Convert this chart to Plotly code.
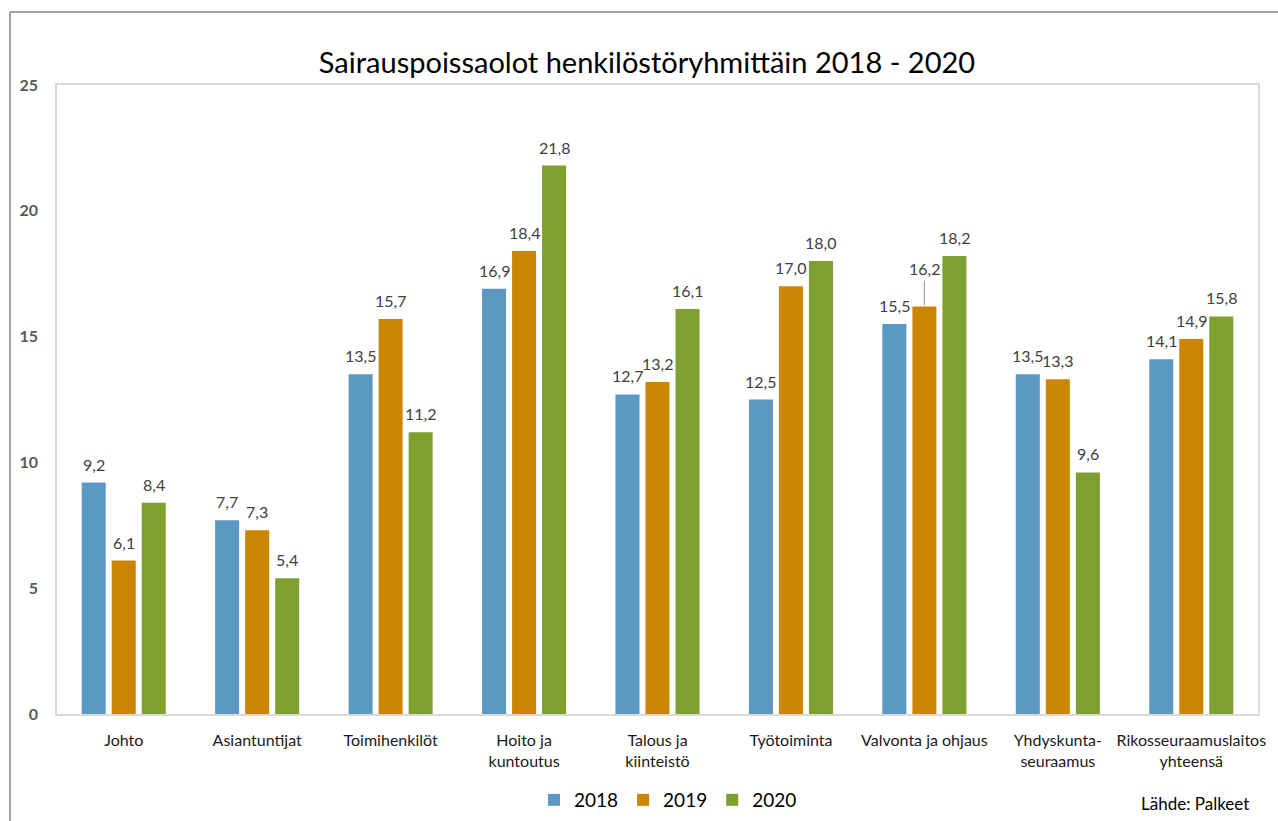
import plotly.graph_objects as go

categories = ["Johto", "Asiantuntijat", "Toimihenkilöt", "Hoito ja<br>kuntoutus",
              "Talous ja<br>kiinteistö", "Työtoiminta", "Valvonta ja ohjaus",
              "Yhdyskunta-<br>seuraamus", "Rikosseuraamuslaitos<br>yhteensä"]
years = ["2018", "2019", "2020"]
v2018 = [9.2, 7.7, 13.5, 16.9, 12.7, 12.5, 15.5, 13.5, 14.1]
v2019 = [6.1, 7.3, 15.7, 18.4, 13.2, 17.0, 16.2, 13.3, 14.9]
v2020 = [8.4, 5.4, 11.2, 21.8, 16.1, 18.0, 18.2, 9.6, 15.8]
colors = ["#5B98C2", "#CC8500", "#7DA02E"]
title_text = "Sairauspoissaolot henkilöstöryhmittäin 2018 - 2020"
source_text = "Lähde: Palkeet"

FONT = "Lato, 'Open Sans', sans-serif"
series = [v2018, v2019, v2020]

W, H = 1278, 821
L, R, T, B = 57, 20, 85, 107
bargap = 0.325
slot = (1 - bargap) / 3

fig = go.Figure()
for yr, vals, col in zip(years, series, colors):
    fig.add_trace(go.Bar(name=yr, x=list(range(len(categories))), y=vals,
                         marker=dict(color=col, line=dict(width=0))))

annotations = []
for i, vals in enumerate(series):
    off = (i - 1) * slot
    for j, v in enumerate(vals):
        txt = f"{v:.1f}".replace(".", ",")
        if categories[j] == "Valvonta ja ohjaus" and i == 1:
            annotations.append(dict(x=j + off, y=v, xref="x", yref="y", text=txt,
                                    showarrow=True, arrowhead=0, arrowwidth=1.2,
                                    arrowcolor="#A6A6A6", ax=0, ay=-26,
                                    standoff=1, yanchor="bottom",
                                    font=dict(family=FONT, size=16, color="#404040")))
        else:
            annotations.append(dict(x=j + off, y=v, xref="x", yref="y", text=txt,
                                    showarrow=False, yanchor="bottom", yshift=7,
                                    font=dict(family=FONT, size=16, color="#404040")))

px_x = lambda p: (p - L) / (W - L - R)
px_y = lambda p: (H - B - p) / (H - T - B)

annotations.append(dict(x=px_x(1195), y=px_y(803),
                        xref="paper", yref="paper", text=source_text, showarrow=False,
                        xanchor="center", yanchor="middle",
                        font=dict(family=FONT, size=17, color="#000000")))

shapes = [
    dict(type="line", xref="paper", yref="paper", x0=px_x(10), x1=px_x(10),
         y0=px_y(830), y1=px_y(12), line=dict(color="#868686", width=1.5)),
    dict(type="line", xref="paper", yref="paper", x0=px_x(10), x1=px_x(1290),
         y0=px_y(12), y1=px_y(12), line=dict(color="#868686", width=1.5)),
]

fig.update_layout(
    width=W, height=H,
    margin=dict(l=L, r=R, t=T, b=B, autoexpand=False),
    paper_bgcolor="white", plot_bgcolor="white",
    barmode="group", bargap=bargap, bargroupgap=0.2,
    title=dict(text=title_text, x=px_x(665), xanchor="center",
               y=1 - 63 / H, yanchor="middle", yref="container",
               font=dict(family=FONT, size=29, color="#000000")),
    xaxis=dict(tickmode="array", tickvals=list(range(len(categories))),
               ticktext=categories, range=[-0.5, len(categories) - 0.5],
               showline=True, mirror=True, linecolor="#D9D9D9", linewidth=1.5,
               ticks="outside", ticklen=11, tickcolor="rgba(0,0,0,0)",
               tickfont=dict(family=FONT, size=16, color="#1a1a1a"),
               showgrid=False, zeroline=False, automargin=False),
    yaxis=dict(range=[0, 25], dtick=5, showgrid=False, zeroline=False,
               showline=True, mirror=True, linecolor="#D9D9D9", linewidth=1.5,
               ticks="outside", ticklen=14, tickcolor="rgba(0,0,0,0)",
               tickfont=dict(family=FONT, size=16, color="#595959", weight="bold"),
               automargin=False),
    legend=dict(orientation="h", x=px_x(668), xanchor="center",
                y=px_y(800), yanchor="middle",
                font=dict(family=FONT, size=19, color="#000000"),
                itemwidth=30, tracegroupgap=0),
    annotations=annotations,
    shapes=shapes,
    showlegend=True,
)

fig.write_html("out.html", config={"displayModeBar": False},
               post_script="document.body.style.margin='0';document.body.style.padding='0';")
